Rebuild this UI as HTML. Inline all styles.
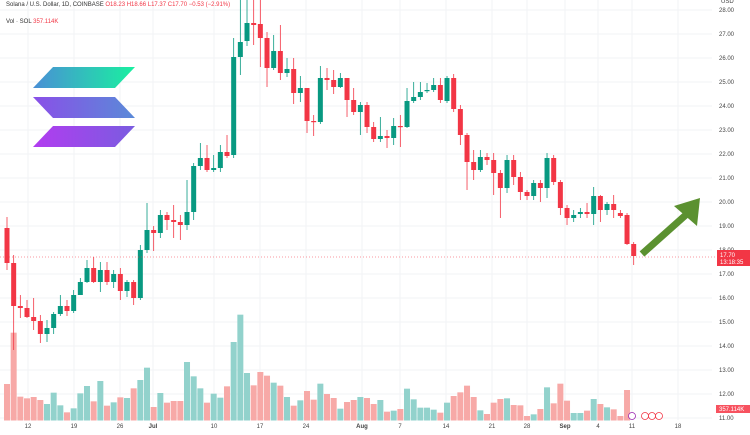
<!DOCTYPE html>
<html><head><meta charset="utf-8"><style>
body{margin:0;background:#fff;width:750px;height:430px;overflow:hidden;font-family:"Liberation Sans",sans-serif}
</style></head><body>
<svg id="s" width="750" height="430" xmlns="http://www.w3.org/2000/svg">
<defs>
<linearGradient id="g1" x1="0" y1="0" x2="1" y2="0"><stop offset="0" stop-color="#4a8fd6"/><stop offset="1" stop-color="#19f0a0"/></linearGradient>
<linearGradient id="g2" x1="0" y1="0" x2="1" y2="0"><stop offset="0" stop-color="#8a4fe8"/><stop offset="1" stop-color="#5a8ad8"/></linearGradient>
<linearGradient id="g3" x1="0" y1="0" x2="1" y2="0"><stop offset="0" stop-color="#b23cf0"/><stop offset="1" stop-color="#7a5ce0"/></linearGradient>
</defs>
<g id="grid"></g>
<g id="vol"></g>
<g id="cdl"></g>
<polygon points="53,67 135,67 115,88 33,88" fill="url(#g1)"/>
<polygon points="33,97 115,97 135,118 53,118" fill="url(#g2)"/>
<polygon points="53,126 135,126 115,147 33,147" fill="url(#g3)"/>
<line x1="642" y1="254" x2="688" y2="213" stroke="#5b9130" stroke-width="7"/>
<polygon points="700,198 697,226 674,206" fill="#5b9130"/>
<line x1="0" y1="257" x2="715" y2="257" stroke="#f23645" stroke-width="0.6" stroke-dasharray="1,2"/>
<text x="6" y="6" font-size="6" fill="#333">Solana / U.S. Dollar, 1D, COINBASE <tspan fill="#f23645">O18.23 H18.66 L17.37 C17.70 −0.53 (−2.91%)</tspan></text>
<text x="6" y="23" font-size="6" fill="#333">Vol · SOL <tspan fill="#f23645">357.114K</tspan></text>
<g id="ax" font-size="6" fill="#444"></g>
<rect x="717" y="250" width="33" height="16" fill="#f23645"/>
<text x="720" y="257" font-size="6" fill="#fff">17.70</text>
<text x="720" y="264" font-size="6" fill="#fff">13:18:35</text>
<rect x="716" y="405" width="34" height="8" fill="#f7525f"/>
<text x="719" y="411" font-size="6" fill="#fff">357.114K</text>
<circle cx="632" cy="416" r="3.5" fill="#fff" stroke="#9c27b0" stroke-width="0.8"/>
<circle cx="645" cy="416" r="3.5" fill="#fff" stroke="#f23645" stroke-width="0.8"/>
<circle cx="652" cy="416" r="3.5" fill="#fff" stroke="#f23645" stroke-width="0.8"/>
<circle cx="659" cy="416" r="3.5" fill="#fff" stroke="#f23645" stroke-width="0.8"/>
</svg>
<script>
var C=[[228,263,217,270],[263,306,255,350],[306,308,295,318],[308,317,300,318],[317,321,298,330],[321,334,315,343],[334,328,320,342],[328,314,312,334],[314,306,295,316],[306,311,300,316],[311,295,290,313],[295,282,278,292],[282,268,260,283],[268,282,257,283],[282,270,262,292],[270,282,262,285],[282,274,270,288],[274,291,268,300],[291,282,280,297],[282,298,280,305],[298,250,245,300],[250,230,203,253],[230,233,226,251],[233,215,210,238],[215,220,212,230],[220,222,205,238],[222,225,215,240],[225,212,180,230],[212,166,163,220],[166,158,143,170],[158,170,145,172],[170,168,155,172],[168,152,145,172],[152,156,135,158],[155,57,38,158],[57,42,0,75],[41,23,0,46],[23,25,0,45],[24,38,0,67],[38,68,32,87],[68,51,35,70],[51,73,25,80],[73,69,58,77],[69,93,58,104],[93,88,76,102],[88,121,88,133],[121,122,115,136],[122,78,66,124],[78,80,68,90],[80,87,70,94],[87,78,73,88],[78,100,78,117],[100,112,88,115],[112,105,102,135],[105,127,102,133],[127,139,122,142],[139,136,117,142],[136,138,130,148],[138,126,118,145],[126,127,115,147],[127,101,88,128],[101,97,82,103],[97,92,82,100],[91,90,83,93],[90,85,78,92],[85,100,78,103],[101,78,76,103],[78,109,74,112],[109,135,105,145],[135,162,133,190],[162,170,150,180],[170,157,150,172],[157,160,153,165],[160,173,153,195],[173,188,170,218],[188,160,155,193],[160,177,155,185],[177,192,172,200],[192,196,190,200],[196,183,180,200],[183,188,180,202],[188,158,153,198],[158,182,155,185],[182,208,180,215],[208,218,205,225],[218,215,210,222],[214,212,208,218],[212,214,203,218],[214,196,187,225],[196,210,195,222],[210,204,202,215],[204,210,195,218],[213,216,210,218],[215,244,213,245],[244,256,242,265]];
var V=[252,98,290,295,291,300,312,278,316,337,325,280,258,304,243,317,307,292,294,265,240,203,321,279,308,303,303,186,229,265,308,281,293,259,126,44,219,256,216,227,248,257,291,317,301,273,299,251,282,294,326,306,300,291,294,312,300,335,332,327,266,298,323,323,329,338,308,288,277,257,291,331,342,308,297,295,315,316,348,343,327,262,310,251,302,339,339,332,297,312,322,328,348,270];
var NS="http://www.w3.org/2000/svg";
function el(p,t,a,txt){var e=document.createElementNS(NS,t);for(var k in a)e.setAttribute(k,a[k]);if(txt)e.textContent=txt;document.getElementById(p).appendChild(e);}
for(var p=11;p<=28;p++){var y=10+(28-p)*24;el("grid","line",{x1:0,x2:712,y1:y,y2:y,stroke:"#f2f3f5","stroke-width":1});el("ax","text",{x:719,y:y+2},p+".00");}
el("ax","text",{x:721,y:3},"USD");
var L=[[28,"12"],[74,"19"],[120,"26"],[153,"Jul"],[214,"10"],[260,"17"],[306,"24"],[362,"Aug"],[400,"7"],[446,"14"],[492,"21"],[527,"28"],[565,"Sep"],[598,"4"],[632,"11"],[678,"18"]];
L.forEach(function(l){el("grid","line",{x1:l[0],x2:l[0],y1:0,y2:420,stroke:"#f2f3f5","stroke-width":1});el("ax","text",{x:l[0],y:428,"text-anchor":"middle","font-weight":(isNaN(l[1])?"bold":"normal")},l[1]);});
C.forEach(function(c,i){var x=7+6.667*i,g=c[1]<c[0];var col=g?"#089981":"#f23645";
el("cdl","line",{x1:x,x2:x,y1:c[2],y2:c[3],stroke:col,"stroke-width":0.8});
var t=Math.min(c[0],c[1]),h=Math.max(1.2,Math.abs(c[1]-c[0]));
el("cdl","rect",{x:x-2.5,y:t,width:5,height:h,fill:col});
var v=300+V[i]/3;el("vol","rect",{x:x-3,y:v,width:6,height:420.5-v,fill:g?"#92d2cc":"#f7a9a7"});});
</script>
</body></html>
